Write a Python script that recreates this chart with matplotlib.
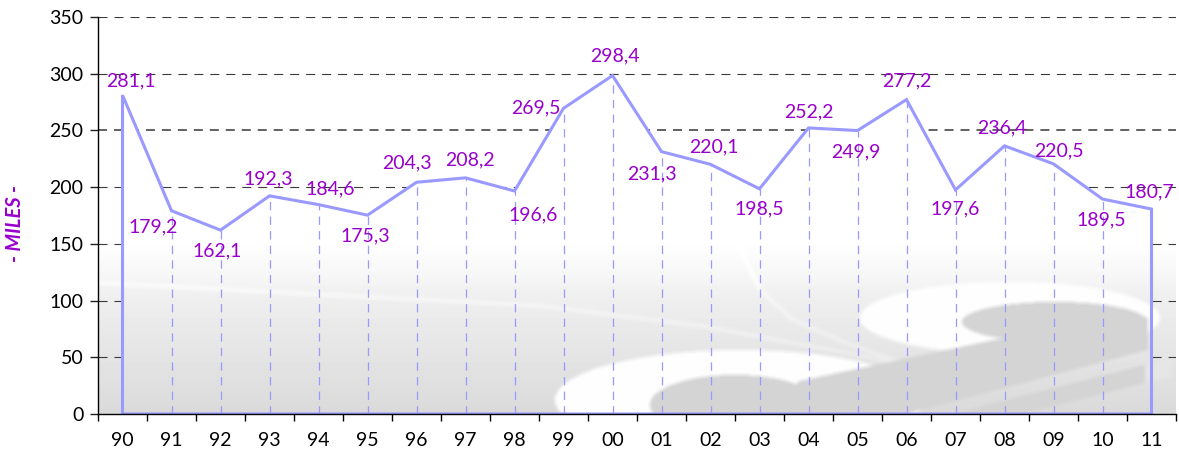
import numpy as np
import matplotlib
matplotlib.use("Agg")
import matplotlib.pyplot as plt
from matplotlib.patches import Polygon

# ---------------- data ----------------
years = ["90", "91", "92", "93", "94", "95", "96", "97", "98", "99", "00",
         "01", "02", "03", "04", "05", "06", "07", "08", "09", "10", "11"]
values = [281.1, 179.2, 162.1, 192.3, 184.6, 175.3, 204.3, 208.2, 196.6, 269.5, 298.4,
          231.3, 220.1, 198.5, 252.2, 249.9, 277.2, 197.6, 236.4, 220.5, 189.5, 180.7]
y_ticks = [0, 50, 100, 150, 200, 250, 300, 350]
# label offsets (pixels, relative to point) - styling only
label_offsets = [(8, 15.5), (-18, -15), (-3, -19.5), (-1, 19), (12, 17), (-2, -19),
                 (-10, 21), (4, 19), (19, -22), (-28, 2), (2, 21), (-10, -21),
                 (3, 18.5), (0, -19), (0, 18), (-2, -20), (0, 20), (0, -18),
                 (-3, 19), (5, 15), (-1, -19), (-2, 19)]

LINE = "#9999ff"
PURPLE = "#9900cc"
plt.rcParams["font.family"] = ["Lato", "DejaVu Sans"]
plt.rcParams["lines.scale_dashes"] = False

W, H = 1179, 459
fig = plt.figure(figsize=(W / 100, H / 100), dpi=100)
L, R, T, B = 98, 1176, 17, 414
ax = fig.add_axes([L / W, (H - B) / H, (R - L) / W, (B - T) / H])

# ---------------- background watermark image ----------------
cols = np.arange(L, R) + 0.5
rows = np.arange(T, B) + 0.5
PX, PY = np.meshgrid(cols, rows)
t1 = np.clip((PY - 238) / (300 - 238), 0, 1)
t2 = np.clip((PY - 300) / (B - 300), 0, 1)
img = 1.0 - 0.065 * t1 ** 1.3 - 0.08 * t2


def polyline_dist(pts):
    pts = np.asarray(pts, float)
    d = np.full(PX.shape, 1e9)
    for (x0, y0), (x1, y1) in zip(pts[:-1], pts[1:]):
        vx, vy = x1 - x0, y1 - y0
        tt = np.clip(((PX - x0) * vx + (PY - y0) * vy) / (vx * vx + vy * vy), 0, 1)
        dd = np.hypot(PX - (x0 + tt * vx), PY - (y0 + tt * vy))
        d = np.minimum(d, dd)
    return d


# thin white swooshes
for curve in ([(98, 283), (380, 298), (540, 306), (700, 326), (830, 350), (907, 365), (960, 380)],
              [(740, 247), (760, 290), (793, 320), (850, 345), (900, 362), (950, 378)]):
    d = polyline_dist(curve)
    img = np.minimum(1.0, img + 0.045 * np.exp(-(d / 1.6) ** 2))


def ell(cx, cy, a, b):
    return ((PX - cx) / a) ** 2 + ((PY - cy) / b) ** 2 <= 1


def poly_mask(verts):
    from matplotlib.path import Path
    p = Path(verts)
    pts = np.column_stack([PX.ravel(), PY.ravel()])
    return p.contains_points(pts).reshape(PX.shape)


GRAY = 0.83
img = np.where(ell(740, 400, 185, 50), 0.995, img)
img = np.where(ell(1010, 318, 150, 36), 0.995, img)
img = np.where(poly_mask([(954, 414), (1145, 365), (1145, 383), (1024, 414)]), GRAY, img)
img = np.where(poly_mask([(1145, 365), (1172, 358), (1172, 378), (1145, 383)]), 0.9, img)
img = np.where(poly_mask([(760, 414), (800, 381), (994, 340), (1148, 318), (1148, 350), (907, 414)]), GRAY, img)
img = np.where(ell(735, 405, 85, 30), GRAY, img)
img = np.where(ell(1055, 322, 93, 20), GRAY, img)


def blur(a, r=2):
    out = a
    for axis in (0, 1):
        pad = [(0, 0), (0, 0)]
        pad[axis] = (r, r)
        p = np.pad(out, pad, mode="edge")
        c = np.cumsum(p, axis=axis)
        c = np.insert(c, 0, 0, axis=axis)
        n = out.shape[axis]
        out = (np.take(c, np.arange(2 * r + 1, 2 * r + 1 + n), axis=axis)
               - np.take(c, np.arange(0, n), axis=axis)) / (2 * r + 1)
    return out


img = blur(img, 2)

x = np.arange(len(years))
ext = (-0.5, len(years) - 0.5, 0, 350)
ax.imshow(img, cmap="gray", vmin=0, vmax=1, extent=ext, aspect="auto",
          origin="upper", zorder=0, interpolation="bilinear")

# gridlines (hidden under the area by the picture fill)
for v in y_ticks[1:]:
    ax.axhline(v, color="#3a3a3a" if v != 250 else "#555555",
               lw=0.8 if v != 250 else 1.3, linestyle=(0, (6.5, 5)), zorder=1)

verts = [(x[0], 0)] + list(zip(x, values)) + [(x[-1], 0)]
clip_poly = Polygon(verts, closed=True, transform=ax.transData)
im2 = ax.imshow(img, cmap="gray", vmin=0, vmax=1, extent=ext, aspect="auto",
                origin="upper", zorder=2, interpolation="bilinear")
im2.set_clip_path(clip_poly)

# drop lines
ax.vlines(x[1:-1], 0, values[1:-1], colors=LINE, linestyles=(0, (6, 4.5)), lw=0.9, zorder=3)

# area outline
ax.add_patch(Polygon(verts, closed=True, facecolor="none", edgecolor=LINE,
                     lw=2.2, joinstyle="miter", zorder=4))

# data labels
for i, v in enumerate(values):
    dx, dy = label_offsets[i]
    ax.annotate(f"{v:.1f}".replace(".", ","), xy=(x[i], v), xytext=(dx, dy - 7),
                textcoords="offset pixels", ha="center", va="baseline",
                color=PURPLE, fontsize=14, zorder=6)

ax.set_xlim(-0.5, len(years) - 0.5)
ax.set_ylim(0, 350)
ax.set_yticks(y_ticks)
ax.set_xticks(np.arange(len(years) + 1) - 0.5)
ax.set_xticklabels([])
ax.set_xticks(x, minor=True)
ax.set_xticklabels(years, minor=True)
ax.tick_params(axis="x", which="major", direction="out", length=5, width=1, color="black")
ax.tick_params(axis="x", which="minor", length=0, pad=13, labelsize=14)
ax.tick_params(axis="y", direction="out", length=5.5, width=1, color="#222222",
               pad=5, labelsize=14)
for s in ("top", "right"):
    ax.spines[s].set_visible(False)
for s in ("left", "bottom"):
    ax.spines[s].set_color("black")
    ax.spines[s].set_linewidth(1.0)
    ax.spines[s].set_zorder(5)

fig.text(15 / W, 1 - 223 / H, "- MILES -", rotation=90, ha="center", va="center",
         color=PURPLE, fontsize=14.5, fontweight="bold", fontstyle="italic")

fig.savefig("out.png", dpi=100)
